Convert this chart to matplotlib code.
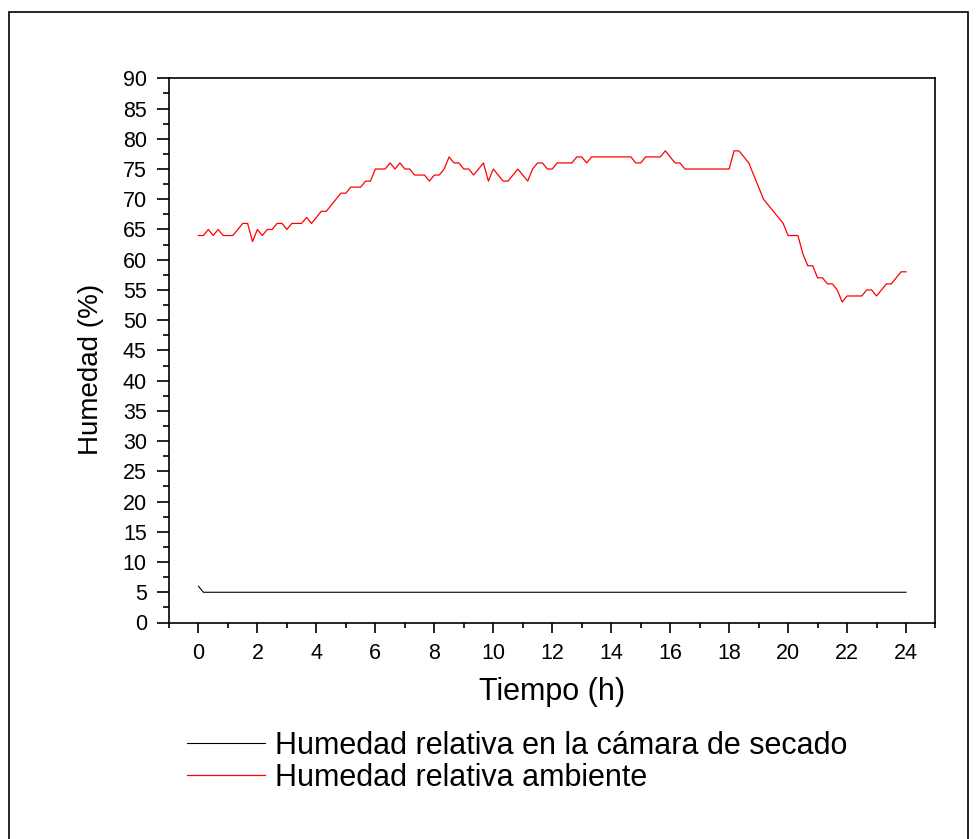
import numpy as np
import matplotlib
matplotlib.use("Agg")
import matplotlib.pyplot as plt
from matplotlib.patches import Rectangle

plt.rcParams['font.family'] = ['Liberation Sans', 'DejaVu Sans']

# time in hours, sampled every 10 minutes
time_h = np.arange(145) / 6.0

hr_ambiente = [
    64, 64, 65, 64, 65, 64, 64, 64, 65, 66, 66, 63, 65, 64, 65, 65, 66, 66, 65, 66,
    66, 66, 67, 66, 67, 68, 68, 69, 70, 71, 71, 72, 72, 72, 73, 73, 75, 75, 75, 76,
    75, 76, 75, 75, 74, 74, 74, 73, 74, 74, 75, 77, 76, 76, 75, 75, 74, 75, 76, 73,
    75, 74, 73, 73, 74, 75, 74, 73, 75, 76, 76, 75, 75, 76, 76, 76, 76, 77, 77, 76,
    77, 77, 77, 77, 77, 77, 77, 77, 77, 76, 76, 77, 77, 77, 77, 78, 77, 76, 76, 75,
    75, 75, 75, 75, 75, 75, 75, 75, 75, 78, 78, 77, 76, 74, 72, 70, 69, 68, 67, 66,
    64, 64, 64, 61, 59, 59, 57, 57, 56, 56, 55, 53, 54, 54, 54, 54, 55, 55, 54, 55,
    56, 56, 57, 58, 58,
]
hr_camara = [6] + [5] * 144

labels = ["Humedad relativa en la cámara de secado", "Humedad relativa ambiente"]
xticks = list(range(0, 25, 2))
yticks = list(range(0, 91, 5))

fig = plt.figure(figsize=(9.79, 8.39), dpi=100)
ax = fig.add_axes([169/979, 1-622.5/839, (935.5-169)/979, (622.5-78.3)/839])

l1, = ax.plot(time_h, hr_camara, color='black', lw=0.8)
l2, = ax.plot(time_h, hr_ambiente, color='#ff0000', lw=0.9)

ax.set_xlim(-1, 25)
ax.set_ylim(0, 90)
ax.set_xticks(xticks)
ax.set_xticks(list(range(-1, 26, 2)), minor=True)
ax.set_yticks(yticks)
ax.set_yticks([v + 2.5 for v in yticks[:-1]], minor=True)
for s in ax.spines.values():
    s.set_linewidth(1.2)
ax.tick_params(axis='both', which='both', direction='out', width=1.2, labelsize=15.5)
ax.tick_params(axis='x', which='major', length=7.5, pad=7)
ax.tick_params(axis='x', which='minor', length=3.8)
ax.tick_params(axis='y', which='major', length=9, pad=7)
ax.tick_params(axis='y', which='minor', length=4.5)

ax.set_xlabel("Tiempo (h)", fontsize=22)
ax.xaxis.set_label_coords(0.5, -(677 - 622.5) / 544.2)
ax.set_ylabel("Humedad (%)", fontsize=20)
ax.yaxis.set_label_coords((104 - 169) / 766.5, (622.5 - 369) / 544.2)

fig.legend([l1, l2], labels, loc='upper left', bbox_to_anchor=(187/979, 1-731/839),
           frameon=False, fontsize=22, handlelength=2.55, handletextpad=0.33,
           labelspacing=0.05, borderaxespad=0, borderpad=0)

fig.patches.append(Rectangle((9/979, -0.05), (968-9)/979, (1-12/839)+0.05,
                             transform=fig.transFigure, fill=False,
                             edgecolor='black', lw=1.2))

fig.savefig("out.png", dpi=100)
